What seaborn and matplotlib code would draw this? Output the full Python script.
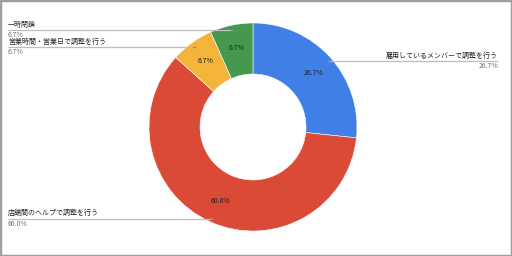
import matplotlib
matplotlib.use("Agg")
import matplotlib.pyplot as plt
import seaborn as sns
from matplotlib.patches import Rectangle

categories = ["雇用しているメンバーで調整を行う", "店舗間のヘルプで調整を行う",
              "営業時間・営業日で調整を行う", "一時閉鎖"]
values = [4, 9, 1, 1]
colors = ["#3f7fe6", "#db4a36", "#f4b43a", "#46984f"]

sns.set_theme(style="white")
plt.rcParams['font.family'] = ['Noto Sans CJK JP', 'DejaVu Sans']

W, H = 512, 256
fig = plt.figure(figsize=(W / 100, H / 100), dpi=100)
ax = fig.add_axes([0, 0, 1, 1])
ax.set_xlim(0, W)
ax.set_ylim(0, H)
ax.axis("off")

def Y(y):
    return H - y

cx, cy, R, r_in = 253, 127, 104, 53
wedges, texts, autotexts = ax.pie(
    values, colors=sns.color_palette(colors), startangle=90, counterclock=False,
    center=(cx, Y(cy)), radius=R, autopct="%.1f%%", pctdistance=0.78,
    wedgeprops=dict(width=R - r_in, edgecolor="white", linewidth=0.4),
    textprops=dict(fontsize=5, color="#222222"), frame=True)
ax.set_xlim(0, W)
ax.set_ylim(0, H)
ax.set_aspect("equal")
ax.axis("off")

total = sum(values)
# label layout: (text x, line y, line x0, line x1, align)
layout = {
    "一時閉鎖": (8, 30, 8, 233, "left"),
    "営業時間・営業日で調整を行う": (8, 47, 8, 195, "left"),
    "雇用しているメンバーで調整を行う": (498, 61, 327, 498, "right"),
    "店舗間のヘルプで調整を行う": (8, 218.5, 8, 213, "left"),
}
for cat, v in zip(categories, values):
    tx, ly, x0, x1, ha = layout[cat]
    ax.plot([x0, x1], [Y(ly), Y(ly)], color="#bdbdbd", lw=0.9, solid_capstyle="butt")
    px = x1 if ha == "left" else x0
    ax.plot([px - 2 if ha == "left" else px, px if ha == "left" else px + 2],
            [Y(ly), Y(ly)], color="#888888", lw=1.0)
    ax.text(tx, Y(ly) + 1.2, cat, ha=ha, va="bottom", fontsize=5, color="#222222")
    ax.text(tx, Y(ly) - 1.0, f"{v / total * 100:.1f}%", ha=ha, va="top",
            fontsize=5, color="#757575")

fig.add_artist(Rectangle((0, 0), 1, 1, transform=fig.transFigure, fill=False,
                         edgecolor="#9e9e9e", linewidth=2.5))

fig.savefig("out.png", dpi=100)
